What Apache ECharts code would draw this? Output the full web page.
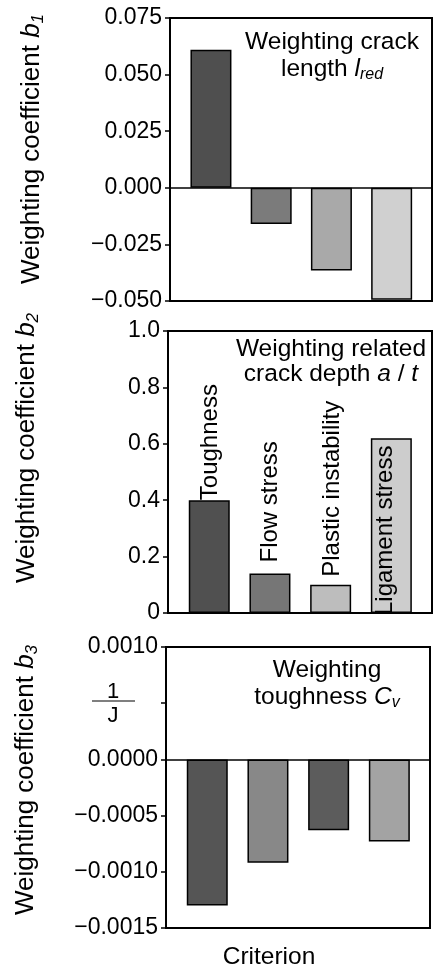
<!DOCTYPE html>
<html>
<head>
<meta charset="utf-8">
<script src="https://cdn.jsdelivr.net/npm/echarts@6/dist/echarts.min.js"></script>
<style>
html, body { margin: 0; padding: 0; background: #fff; }
#chart { width: 435px; height: 970px; }
</style>
</head>
<body>
<div id="chart"></div>
<script>
// criteria (same order in every panel)
var criteria = ['Toughness', 'Flow stress', 'Plastic instability', 'Ligament stress'];

// weighting coefficients
var b1Values = [0.061, -0.016, -0.0365, -0.0495];
var b2Values = [0.40, 0.14, 0.10, 0.62];
var b3Values = [-0.0013, -0.00092, -0.00063, -0.00073];

// y axis ranges: [min, max, interval]
var b1Axis = [-0.05, 0.075, 0.025];
var b2Axis = [0, 1.0, 0.2];
var b3Axis = [-0.0015, 0.001, 0.0005];

// grey tones of the hatched bars, per panel
var b1Colors = ['#4f4f4f', '#7b7b7b', '#a9a9a9', '#d0d0d0'];
var b2Colors = ['#505050', '#767676', '#bdbdbd', '#cdcdcd'];
var b3Colors = ['#555555', '#888888', '#5c5c5c', '#a3a3a3'];

var FONT = '"Liberation Sans", Arial, Helvetica, sans-serif';

var chart = echarts.init(document.getElementById('chart'));

function minus(s) {
	return s.replace('-', '\u2212');
}

function barData(values, colors, labels) {
	return values.map(function (v, i) {
		var item = { value: [i + 1, v], itemStyle: { color: colors[i] } };
		if (labels) item.label = labels[i];
		return item;
	});
}

function yAxisFor(idx, range, fmt) {
	return {
		gridIndex: idx,
		type: 'value',
		min: range[0],
		max: range[1],
		interval: range[2],
		axisLine: { show: true, lineStyle: { color: '#000', width: 2 } },
		axisTick: { show: true, inside: false, length: 5, lineStyle: { color: '#000', width: 1.5 } },
		axisLabel: { color: '#000', fontSize: 23, fontFamily: FONT, margin: 8, formatter: fmt },
		splitLine: { show: false }
	};
}

function xAxisFor(idx) {
	return {
		gridIndex: idx, type: 'value', min: 0.32, max: 4.67,
		axisLine: { show: false }, axisTick: { show: false },
		axisLabel: { show: false }, splitLine: { show: false }
	};
}

var zeroLine = {
	silent: true,
	symbol: ['none', 'none'],
	label: { show: false },
	lineStyle: { color: '#000', width: 1.5, type: 'solid' },
	data: [{ yAxis: 0 }]
};

// rotated criterion labels of the middle panel (offset is in the rotated frame)
var b2Labels = [
	{ position: 'top', distance: 0, offset: [0, 1] },
	{ position: 'top', distance: 11 },
	{ position: 'top', distance: 8, offset: [0, 2] },
	{ position: 'insideBottom', distance: -2, offset: [0, -6] }
];

var barStyle = { borderColor: '#000', borderWidth: 1.5 };

function rtext(x, y, text, rich, rot, size) {
	return {
		type: 'text', x: x, y: y, rotation: rot || 0, silent: true,
		style: {
			text: text, fill: '#000', fontSize: size || 24.5, fontFamily: FONT,
			align: 'center', verticalAlign: 'middle', rich: rich
		}
	};
}

var rich = {
	n: { fontSize: 24.5, fontFamily: FONT, fill: '#000', lineHeight: 28 },
	i: { fontSize: 24.5, fontFamily: FONT, fontStyle: 'italic', fill: '#000', lineHeight: 28 },
	s: { fontSize: 16, fontFamily: FONT, fontStyle: 'italic', fill: '#000', lineHeight: 14, verticalAlign: 'bottom' }
};

var richTitle = {
	n: { fontSize: 26, fontFamily: FONT, fill: '#000', lineHeight: 30 },
	i: { fontSize: 26, fontFamily: FONT, fontStyle: 'italic', fill: '#000', lineHeight: 30 },
	s: { fontSize: 17, fontFamily: FONT, fontStyle: 'italic', fill: '#000', lineHeight: 15, verticalAlign: 'bottom' }
};

var option = {
	animation: false,
	backgroundColor: '#fff',
	grid: [
		{ left: 170, top: 18, width: 262, height: 283, show: true, borderColor: '#000', borderWidth: 2 },
		{ left: 168, top: 331, width: 264, height: 282, show: true, borderColor: '#000', borderWidth: 2 },
		{ left: 166, top: 647, width: 264, height: 281, show: true, borderColor: '#000', borderWidth: 2 }
	],
	xAxis: [xAxisFor(0), xAxisFor(1), xAxisFor(2)],
	yAxis: [
		yAxisFor(0, b1Axis, function (v) { return minus(v.toFixed(3)); }),
		yAxisFor(1, b2Axis, function (v) { return v === 0 ? '0' : v.toFixed(1); }),
		yAxisFor(2, b3Axis, function (v) {
			if (Math.abs(v - 0.0005) < 1e-9) return '';
			return minus(v.toFixed(4));
		})
	],
	series: [
		{
			type: 'bar', xAxisIndex: 0, yAxisIndex: 0, barWidth: 41,
			itemStyle: barStyle, data: barData(b1Values, b1Colors), markLine: zeroLine
		},
		{
			type: 'bar', xAxisIndex: 1, yAxisIndex: 1, barWidth: 41,
			itemStyle: barStyle,
			label: {
				show: true, rotate: 90, align: 'left', verticalAlign: 'middle',
				fontSize: 24, fontFamily: FONT, color: '#000',
				formatter: function (p) { return criteria[p.dataIndex]; }
			},
			data: barData(b2Values, b2Colors, b2Labels)
		},
		{
			type: 'bar', xAxisIndex: 2, yAxisIndex: 2, barWidth: 41,
			itemStyle: barStyle, data: barData(b3Values, b3Colors), markLine: zeroLine
		}
	],
	graphic: [
		// y axis titles
		rtext(32, 149, '{n|Weighting coefficient }{i|b}{s|1}', richTitle, Math.PI / 2),
		rtext(27, 448, '{n|Weighting coefficient }{i|b}{s|2}', richTitle, Math.PI / 2),
		rtext(26, 780, '{n|Weighting coefficient }{i|b}{s|3}', richTitle, Math.PI / 2),
		// panel annotations
		rtext(332, 42, 'Weighting crack'),
		rtext(332, 69, '{n|length }{i|l}{s|red}', rich),
		rtext(331, 349, 'Weighting related'),
		rtext(331, 374, '{n|crack depth }{i|a}{n| / }{i|t}', rich),
		rtext(327, 670, 'Weighting'),
		rtext(327, 697, '{n|toughness }{i|C}{s|v}', rich),
		// unit 1/J
		rtext(113, 692, '1', null, 0, 22),
		{ type: 'line', silent: true, shape: { x1: 92, y1: 701, x2: 135, y2: 701 }, style: { stroke: '#000', lineWidth: 1.2 } },
		rtext(113, 716, 'J', null, 0, 22),
		// x axis title
		rtext(269, 957, 'Criterion')
	]
};

chart.setOption(option);
</script>
</body>
</html>
